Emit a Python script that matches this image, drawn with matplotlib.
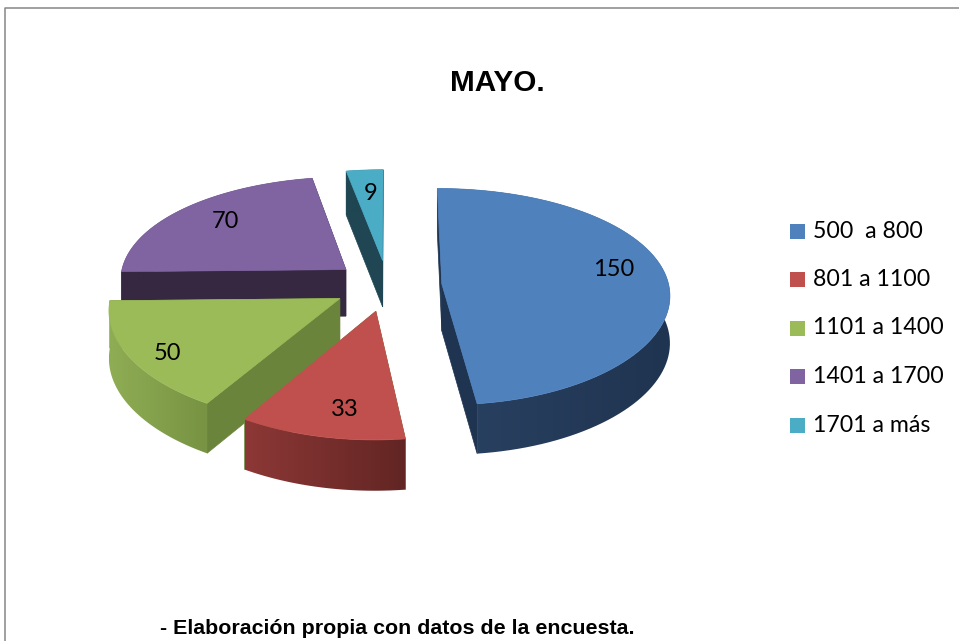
import numpy as np
import matplotlib
matplotlib.use('Agg')
import matplotlib.pyplot as plt
from matplotlib.colors import LinearSegmentedColormap
from matplotlib.patches import Polygon, Rectangle

# datos
labels = ['500  a 800', '801 a 1100', '1101 a 1400', '1401 a 1700', '1701 a más']
values = [150, 33, 50, 70, 9]
title = 'MAYO.'
source = '- Elaboración propia con datos de la encuesta.'

colors = ['#4f81bd', '#c0504d', '#9bbb59', '#8064a2', '#4bacc6']
# pared curva (izq, der) y pared de corte
wall_left = ['#2a4263', '#8c3836', '#8fad54', '#362841', '#1f4652']
wall_right = ['#1f3450', '#622523', '#779343', '#362841', '#1f4652']
cut_color = ['#1f3450', '#6b843c', '#6b843c', '#362841', '#1f4652']

# posicion de las etiquetas en pixeles
label_pos = [(614, 270), (345, 409), (167, 353), (225, 221), (371, 193)]

# geometria del pastel en pixeles
cx, cy = 387.5, 285.5
rx, ry = 227, 107
explode = 0.24
persp_x = 0.09
persp_y = 0.117
depth = 47


def project(U, V, z=0.0):
    sx = 1.0 / (1.0 - persp_x * V)
    sy = 1.0 / (1.0 - persp_y * V)
    return cx + U * rx * sx, cy + V * ry * sy + z * depth * np.sqrt(sy)


plt.rcParams['font.family'] = ['Lato', 'DejaVu Sans']
fig = plt.figure(figsize=(9.59, 6.41), dpi=100)
ax = fig.add_axes([0, 0, 1, 1])

# marco
ax.plot([5, 5, 959], [641, 8, 8], color='#868686', lw=1.1, zorder=1)

total = float(sum(values))
ends = np.cumsum(values) / total * 2 * np.pi
starts = ends - np.array(values) / total * 2 * np.pi

# orden de atras hacia adelante: celeste, morado, azul, verde, rojo
order = [4, 3, 0, 2, 1]
z = 2
for i in order:
    a0, a1 = starts[i], ends[i]
    mid = (a0 + a1) / 2
    U0, V0 = explode * np.sin(mid), -explode * np.cos(mid)
    ang = np.linspace(a0, a1, 90)
    U = U0 + np.sin(ang)
    V = V0 - np.cos(ang)

    # paredes de corte
    for a in (a0, a1):
        Ue, Ve = U0 + np.sin(a), V0 - np.cos(a)
        pts = [project(U0, V0), project(Ue, Ve), project(Ue, Ve, 1), project(U0, V0, 1)]
        ax.add_patch(Polygon(pts, closed=True, fc=cut_color[i], ec=cut_color[i], lw=0.5, zorder=z))
        z += 1

    # pared curva, con degradado recortado a su silueta
    upper = [project(u, v) for u, v in zip(U, V)]
    lower = [project(u, v, 1) for u, v in zip(U, V)]
    outline = np.array(upper + lower[::-1])
    clip = Polygon(outline, closed=True, fc='none', ec='none', transform=ax.transData)
    ax.add_patch(clip)
    cmap = LinearSegmentedColormap.from_list('w', [wall_left[i], wall_right[i]])
    x0, x1 = outline[:, 0].min(), outline[:, 0].max()
    y0, y1 = outline[:, 1].min(), outline[:, 1].max()
    im = ax.imshow(np.linspace(0, 1, 256).reshape(1, -1), cmap=cmap, aspect='auto',
                   extent=(x0, x1, y1, y0), interpolation='bilinear', zorder=z)
    im.set_clip_path(clip)
    z += 1

    # cara superior
    pts = [project(U0, V0)] + upper
    ax.add_patch(Polygon(pts, closed=True, fc=colors[i], ec=colors[i], lw=0.5, zorder=z))
    z += 1

for v, (x, y) in zip(values, label_pos):
    ax.text(x, y, str(v), fontsize=17, color='black', ha='center', va='center', zorder=200)

# leyenda
for k, lab in enumerate(labels):
    y = 231 + k * 48.5
    ax.add_patch(Rectangle((790, y - 7.5), 15, 15, fc=colors[k], ec='none', zorder=200))
    ax.text(813, y, lab, fontsize=16.7, color='black', ha='left', va='center', zorder=200)

ax.text(497, 83, title, fontsize=21.4, fontweight='bold', family='Liberation Sans',
        ha='center', va='center')
ax.text(397, 629, source, fontsize=15.4, fontweight='bold', family='Liberation Sans',
        ha='center', va='center')

ax.set_xlim(0, 959)
ax.set_ylim(641, 0)
ax.axis('off')

fig.savefig('out.png', dpi=100)
